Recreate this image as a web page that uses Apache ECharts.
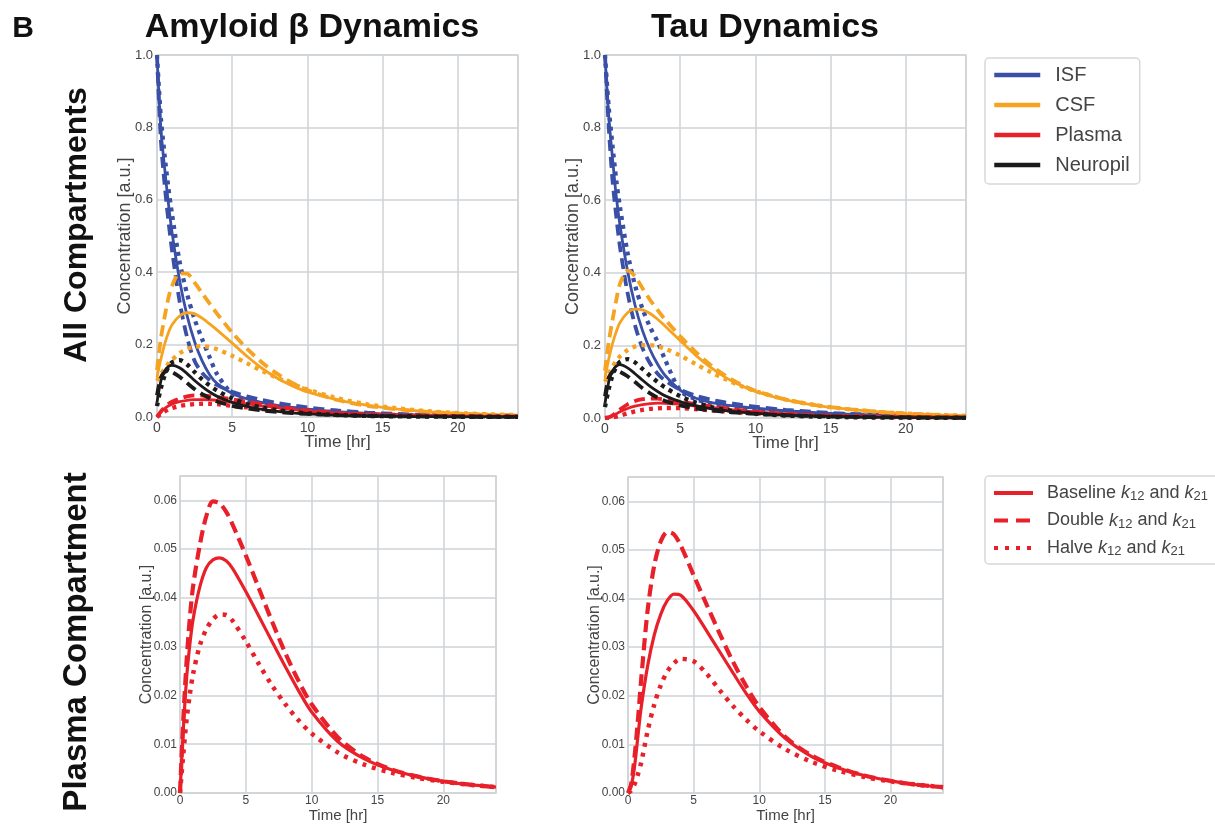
<!DOCTYPE html>
<html><head><meta charset="utf-8">
<script src="https://cdn.jsdelivr.net/npm/echarts@6/dist/echarts.min.js"></script>
<style>html,body{margin:0;padding:0;background:#fff}#c{width:1215px;height:825px}</style>
</head><body><div id="c"></div>
<script>
// Time points [hr]
const T = [0,0.25,0.5,0.75,1,1.5,2,2.5,3,3.5,4,5,6,7,8,9,10,12,14,16,18,20,22,24];

// Amyloid beta — all compartments (Baseline / Double / Halve k12 and k21)
const abIsfBase   = [1.0,0.80,0.69,0.593,0.51,0.378,0.28,0.208,0.155,0.117,0.092,0.065,0.050,0.0395,0.032,0.0265,0.0219,0.015,0.0102,0.007,0.0048,0.0033,0.0022,0.0015];
const abIsfDouble = [1.0,0.77,0.645,0.545,0.46,0.32,0.22,0.155,0.122,0.102,0.088,0.07,0.057,0.047,0.039,0.032,0.0265,0.018,0.0122,0.0083,0.0056,0.0038,0.0026,0.0018];
const abIsfHalve  = [1.0,0.83,0.725,0.635,0.56,0.43,0.34,0.27,0.215,0.165,0.118,0.064,0.046,0.036,0.029,0.0235,0.019,0.0126,0.0084,0.0056,0.0037,0.0025,0.0017,0.0011];
const abCsfBase   = [0.11,0.158,0.2,0.232,0.255,0.279,0.288,0.285,0.273,0.257,0.240,0.204,0.167,0.134,0.107,0.086,0.069,0.047,0.032,0.022,0.015,0.0104,0.0071,0.0049];
const abCsfDouble = [0.13,0.215,0.275,0.327,0.362,0.397,0.396,0.371,0.342,0.313,0.285,0.233,0.188,0.150,0.119,0.094,0.074,0.047,0.031,0.021,0.0143,0.0098,0.0067,0.0046];
const abCsfHalve  = [0.10,0.118,0.133,0.147,0.158,0.176,0.188,0.194,0.196,0.193,0.187,0.169,0.148,0.127,0.108,0.091,0.076,0.052,0.035,0.024,0.0162,0.011,0.0075,0.0051];
const abNeuBase   = [0.04,0.098,0.126,0.139,0.143,0.136,0.120,0.101,0.084,0.069,0.057,0.040,0.029,0.021,0.0155,0.0115,0.0085,0.0047,0.0027,0.0016,0.001,0.0006,0.0004,0.0003];
const abNeuDouble = [0.06,0.108,0.124,0.127,0.124,0.111,0.094,0.077,0.063,0.052,0.043,0.031,0.0235,0.018,0.014,0.011,0.0085,0.0052,0.0032,0.002,0.0013,0.0008,0.0005,0.0003];
const abNeuHalve  = [0.03,0.078,0.113,0.137,0.151,0.157,0.145,0.124,0.104,0.087,0.073,0.051,0.036,0.026,0.019,0.0138,0.0101,0.0055,0.003,0.0017,0.001,0.0006,0.0004,0.0003];
const abPlaBase   = [0,0.013,0.0235,0.0305,0.0357,0.0422,0.0462,0.0478,0.0482,0.0476,0.0460,0.0413,0.0362,0.0310,0.0259,0.0210,0.0166,0.0105,0.0070,0.0048,0.0034,0.0024,0.0017,0.0012];
const abPlaDouble = [0,0.015,0.027,0.036,0.0425,0.0508,0.0568,0.0598,0.0594,0.0577,0.0550,0.0487,0.0419,0.0351,0.0287,0.0230,0.0182,0.0114,0.0073,0.0049,0.0034,0.0024,0.0017,0.0012];
const abPlaHalve  = [0,0.008,0.015,0.0203,0.0245,0.0302,0.0336,0.0356,0.0366,0.0365,0.0353,0.0311,0.0264,0.0220,0.0182,0.0149,0.0122,0.0083,0.0058,0.0042,0.0031,0.0023,0.0017,0.0012];

// Tau — all compartments
const tauIsfBase   = [1.0,0.83,0.715,0.61,0.53,0.405,0.31,0.24,0.188,0.148,0.117,0.077,0.055,0.043,0.036,0.031,0.027,0.020,0.015,0.011,0.0082,0.006,0.0045,0.0033];
const tauIsfDouble = [1.0,0.80,0.655,0.555,0.47,0.345,0.255,0.192,0.15,0.122,0.103,0.078,0.062,0.051,0.043,0.0365,0.031,0.0225,0.0165,0.012,0.0088,0.0064,0.0047,0.0034];
const tauIsfHalve  = [1.0,0.855,0.75,0.655,0.58,0.455,0.365,0.3,0.25,0.21,0.16,0.076,0.052,0.04,0.033,0.0275,0.023,0.0165,0.012,0.0088,0.0064,0.0047,0.0034,0.0025];
const tauCsfBase   = [0.11,0.163,0.205,0.238,0.263,0.29,0.3,0.298,0.288,0.272,0.253,0.213,0.174,0.14,0.112,0.09,0.073,0.05,0.035,0.025,0.0175,0.0123,0.0087,0.0061];
const tauCsfDouble = [0.13,0.21,0.27,0.325,0.37,0.406,0.39,0.357,0.325,0.297,0.271,0.225,0.183,0.147,0.117,0.093,0.075,0.051,0.0355,0.025,0.0175,0.0123,0.0087,0.0061];
const tauCsfHalve  = [0.10,0.122,0.141,0.157,0.170,0.187,0.197,0.201,0.201,0.197,0.191,0.172,0.149,0.127,0.107,0.089,0.074,0.051,0.0355,0.025,0.0175,0.0123,0.0087,0.0061];
const tauNeuBase   = [0.04,0.1,0.13,0.143,0.147,0.138,0.122,0.104,0.087,0.073,0.061,0.045,0.034,0.026,0.0205,0.016,0.0127,0.008,0.0052,0.0034,0.0022,0.0015,0.001,0.0007];
const tauNeuDouble = [0.06,0.112,0.127,0.13,0.127,0.115,0.099,0.082,0.068,0.056,0.047,0.035,0.027,0.0215,0.0173,0.014,0.0114,0.0076,0.0051,0.0034,0.0023,0.0015,0.001,0.0007];
const tauNeuHalve  = [0.03,0.08,0.117,0.141,0.155,0.162,0.153,0.135,0.116,0.099,0.084,0.06,0.043,0.031,0.0225,0.0165,0.0122,0.0068,0.0038,0.0022,0.0013,0.0008,0.0005,0.0003];
const tauPlaBase   = [0,0.0015,0.0055,0.0115,0.0175,0.0262,0.0325,0.0368,0.0396,0.0409,0.0407,0.0375,0.0333,0.0290,0.0247,0.0205,0.0168,0.0112,0.0075,0.0052,0.0036,0.0025,0.0017,0.0012];
const tauPlaDouble = [0,0.002,0.0075,0.0148,0.0232,0.0377,0.0468,0.0518,0.0537,0.0532,0.0510,0.0448,0.0387,0.0327,0.0270,0.0220,0.0177,0.0115,0.0077,0.0053,0.0036,0.0025,0.0017,0.0012];
const tauPlaHalve  = [0,0.0005,0.0018,0.0038,0.0062,0.0128,0.0182,0.0222,0.0250,0.0267,0.0276,0.0271,0.0245,0.0211,0.0179,0.0151,0.0127,0.0090,0.0064,0.0046,0.0033,0.0024,0.0017,0.0012];

const compartments = ['ISF','CSF','Plasma','Neuropil'];
const variants = ['Baseline','Double','Halve'];

const FONT = '"Liberation Sans", Arial, Helvetica, sans-serif';
const COL = {ISF:'#3a4fa6', CSF:'#f5a320', Plasma:'#e8202a', Neuropil:'#1b1b1b'};
const GRIDC = '#cfd3d6';
const TXT = '#444';

const topSty = {Baseline:{width:2.8,type:'solid'}, Double:{width:3.8,type:[11,6]}, Halve:{width:4.3,type:[4,5]}};
const botSty = {Baseline:{width:3.2,type:'solid'}, Double:{width:4.2,type:[12,6]}, Halve:{width:4.5,type:[4,6]}};

function pts(arr){ return T.map((t,i)=>[t, arr[i]]); }
function line(name, arr, color, sty, idx){
  return {type:'line', name, data:pts(arr), xAxisIndex:idx, yAxisIndex:idx,
    showSymbol:false, symbol:'none', smooth:0.3, silent:true,
    lineStyle:{color, width:sty.width, type:sty.type}, itemStyle:{color}};
}

const topData = [
  {ISF:[abIsfBase,abIsfDouble,abIsfHalve], CSF:[abCsfBase,abCsfDouble,abCsfHalve], Plasma:[abPlaBase,abPlaDouble,abPlaHalve], Neuropil:[abNeuBase,abNeuDouble,abNeuHalve]},
  {ISF:[tauIsfBase,tauIsfDouble,tauIsfHalve], CSF:[tauCsfBase,tauCsfDouble,tauCsfHalve], Plasma:[tauPlaBase,tauPlaDouble,tauPlaHalve], Neuropil:[tauNeuBase,tauNeuDouble,tauNeuHalve]}
];
const botData = [[abPlaBase,abPlaDouble,abPlaHalve],[tauPlaBase,tauPlaDouble,tauPlaHalve]];

const series = [];
topData.forEach((d, gi) => {
  compartments.forEach(c => {
    variants.forEach((v, vi) => {
      const nm = vi === 0 ? c : c + ' (' + v + ')';
      series.push(line(nm, d[c][vi], COL[c], topSty[v], gi));
    });
  });
});
botData.forEach((d, bi) => {
  variants.forEach((v, vi) => series.push(line(v, d[vi], COL.Plasma, botSty[v], 2 + bi)));
});

const grids = [
  {left:157, top:55, width:361, height:362},
  {left:605, top:55, width:361, height:363},
  {left:180, top:476, width:316, height:317},
  {left:628, top:477, width:315, height:316}
].map(g => Object.assign(g, {show:true, borderColor:GRIDC, borderWidth:1.5, backgroundColor:'#fff'}));

function xAx(idx, fs, margin, nfs, gap){
  return {type:'value', gridIndex:idx, min:0, max:24, interval:5,
    name:'Time [hr]', nameLocation:'middle', nameGap:gap, nameMoveOverlap:false,
    nameTextStyle:{fontSize:nfs, color:TXT, fontFamily:FONT},
    axisLine:{show:false}, axisTick:{show:false},
    axisLabel:{fontSize:fs, color:TXT, fontFamily:FONT, margin, formatter:v => (v % 5 === 0 ? String(v) : '')},
    splitLine:{show:true, lineStyle:{color:GRIDC, width:1.5}}};
}
function yAx(idx, max, interval, dec, fs, margin, nfs, gap){
  return {type:'value', gridIndex:idx, min:0, max, interval,
    name:'Concentration [a.u.]', nameLocation:'middle', nameGap:gap, nameMoveOverlap:false,
    nameTextStyle:{fontSize:nfs, color:TXT, fontFamily:FONT},
    axisLine:{show:false}, axisTick:{show:false},
    axisLabel:{fontSize:fs, color:TXT, fontFamily:FONT, margin,
      formatter:v => { const k = v / interval; return Math.abs(k - Math.round(k)) < 1e-6 ? v.toFixed(dec) : ''; }},
    splitLine:{show:true, lineStyle:{color:GRIDC, width:1.5}}};
}

const subRich = {
  k:{fontStyle:'italic', fontSize:18, color:TXT, fontFamily:FONT, lineHeight:20},
  s:{fontSize:13, color:TXT, fontFamily:FONT, lineHeight:12, verticalAlign:'bottom'}
};

const option = {
  animation:false,
  backgroundColor:'#fff',
  grid:grids,
  xAxis:[xAx(0,14,4,17,17), xAx(1,14,4,17,17), xAx(2,12,2,15,15), xAx(3,12,2,15,15)],
  yAxis:[yAx(0,1,0.2,1,13,4,18,23), yAx(1,1,0.2,1,13,4,18,23), yAx(2,0.065,0.01,2,12,3,16,25), yAx(3,0.065,0.01,2,12,3,16,25)],
  legend:[
    {left:985, top:58, orient:'vertical', selectedMode:false,
     data:compartments, itemWidth:46, itemHeight:14, itemGap:10,
     padding:[7,10,9,7], borderColor:'#d6d8db', borderWidth:1.5, borderRadius:4, backgroundColor:'#fff',
     lineStyle:{width:4.5}, itemStyle:{opacity:0},
     textStyle:{fontSize:20, color:TXT, fontFamily:FONT, lineHeight:20, padding:[0,0,0,10]}},
    {left:985, top:476, orient:'vertical', selectedMode:false,
     data:[{name:'Baseline'}, {name:'Double', lineStyle:{type:[14,8]}}, {name:'Halve', lineStyle:{type:[4,7]}}],
     itemWidth:39, itemHeight:14, itemGap:7.5,
     padding:[7,10,6,7], borderColor:'#d6d8db', borderWidth:1.5, borderRadius:4, backgroundColor:'#fff',
     lineStyle:{width:4}, itemStyle:{opacity:0},
     formatter:n => n + ' {k|k}{s|12} and {k|k}{s|21}',
     textStyle:{fontSize:18, color:TXT, fontFamily:FONT, lineHeight:20, padding:[0,0,0,9], rich:subRich}}
  ],
  graphic:[
    {type:'text', x:23, y:29, style:{text:'B', x:0, y:0, align:'center', verticalAlign:'middle', font:'bold 30px ' + FONT, fill:'#111'}},
    {type:'text', x:312, y:28, style:{text:'Amyloid β Dynamics', x:0, y:0, align:'center', verticalAlign:'middle', font:'bold 34px ' + FONT, fill:'#111'}},
    {type:'text', x:765, y:28, style:{text:'Tau Dynamics', x:0, y:0, align:'center', verticalAlign:'middle', font:'bold 34px ' + FONT, fill:'#111'}},
    {type:'text', x:77, y:225, rotation:Math.PI/2, style:{text:'All Compartments', x:0, y:0, align:'center', verticalAlign:'middle', font:'bold 32px ' + FONT, fill:'#111'}},
    {type:'text', x:77, y:642, rotation:Math.PI/2, style:{text:'Plasma Compartment', x:0, y:0, align:'center', verticalAlign:'middle', font:'bold 33px ' + FONT, fill:'#111'}}
  ],
  series
};

const chart = echarts.init(document.getElementById('c'), null, {renderer:'canvas'});
chart.setOption(option);
</script>
</body></html>
